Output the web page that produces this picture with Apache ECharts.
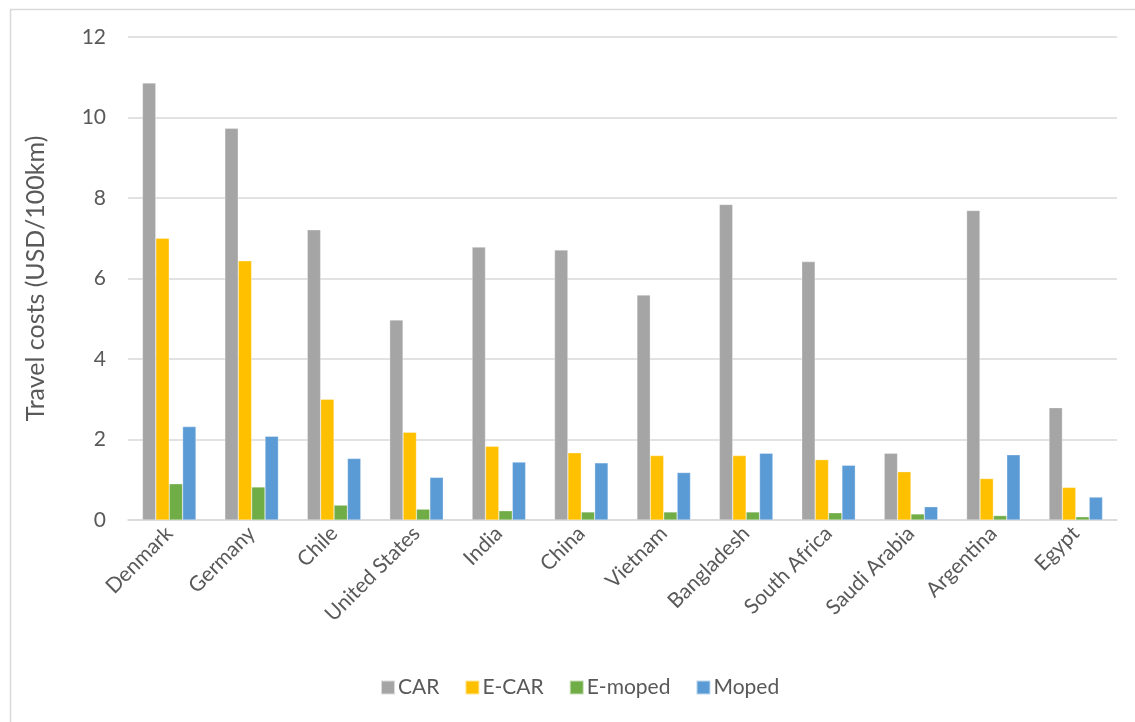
<!DOCTYPE html>
<html>
<head>
<meta charset="utf-8">
<script src="https://cdn.jsdelivr.net/npm/echarts@6/dist/echarts.min.js"></script>
<style>
  html, body { margin: 0; padding: 0; background: #fff; }
  #chart { width: 1135px; height: 722px; }
</style>
</head>
<body>
<div id="chart"></div>
<script>
// Travel cost per 100 km by mode, per country
const countries = ['Denmark', 'Germany', 'Chile', 'United States', 'India', 'China',
  'Vietnam', 'Bangladesh', 'South Africa', 'Saudi Arabia', 'Argentina', 'Egypt'];
const car    = [10.86, 9.73, 7.21, 4.97, 6.78, 6.71, 5.59, 7.84, 6.42, 1.66, 7.69, 2.79];
const eCar   = [7.00, 6.44, 3.00, 2.18, 1.83, 1.67, 1.60, 1.60, 1.50, 1.20, 1.03, 0.81];
const eMoped = [0.90, 0.82, 0.37, 0.27, 0.23, 0.20, 0.20, 0.20, 0.18, 0.15, 0.11, 0.08];
const moped  = [2.32, 2.08, 1.53, 1.06, 1.44, 1.42, 1.18, 1.66, 1.36, 0.33, 1.62, 0.57];
const yTicks = { min: 0, max: 12, step: 2 };

const textColor = '#595959';
const fontFamily = 'Lato, "Open Sans", sans-serif';

const chart = echarts.init(document.getElementById('chart'), null, { renderer: 'canvas' });

function barSeries(name, data, color) {
  return {
    name, type: 'bar', data,
    barGap: '0%', barCategoryGap: '35%',
    itemStyle: { color, borderColor: 'rgba(255,255,255,0.6)', borderWidth: 0.5 },
    emphasis: { disabled: true }
  };
}

chart.setOption({
  animation: false,
  backgroundColor: '#fff',
  textStyle: { fontFamily, color: textColor },
  graphic: [{
    type: 'rect', left: 8, top: 7, silent: true,
    shape: { width: 1150, height: 740 },
    style: { fill: 'none', stroke: '#d9d9d9', lineWidth: 1.5 }
  }],
  grid: { left: 128, right: 18, top: 37, bottom: 202 },
  legend: {
    bottom: 19, left: 375,
    itemWidth: 14, itemHeight: 14, itemGap: 25,
    icon: 'rect',
    textStyle: { fontSize: 21, color: textColor, fontFamily, padding: [0, 0, 0, -2] },
    data: ['CAR', 'E-CAR', 'E-moped', 'Moped']
  },
  xAxis: {
    type: 'category', data: countries,
    axisLine: { lineStyle: { color: '#d9d9d9', width: 1.5 } },
    axisTick: { show: false },
    axisLabel: { rotate: 45, fontSize: 21, color: textColor, margin: 10, interval: 0, fontFamily }
  },
  yAxis: {
    type: 'value', min: yTicks.min, max: yTicks.max, interval: yTicks.step,
    name: 'Travel costs (USD/100km)', nameLocation: 'middle', nameGap: 80,
    nameTextStyle: { fontSize: 25, color: textColor, fontFamily },
    axisLine: { show: false }, axisTick: { show: false },
    axisLabel: { fontSize: 21, color: textColor, margin: 22, fontFamily },
    splitLine: { lineStyle: { color: '#d9d9d9', width: 1.5 } }
  },
  series: [
    barSeries('CAR', car, '#A5A5A5'),
    barSeries('E-CAR', eCar, '#FFC000'),
    barSeries('E-moped', eMoped, '#70AD47'),
    barSeries('Moped', moped, '#5B9BD5')
  ]
});
</script>
</body>
</html>
